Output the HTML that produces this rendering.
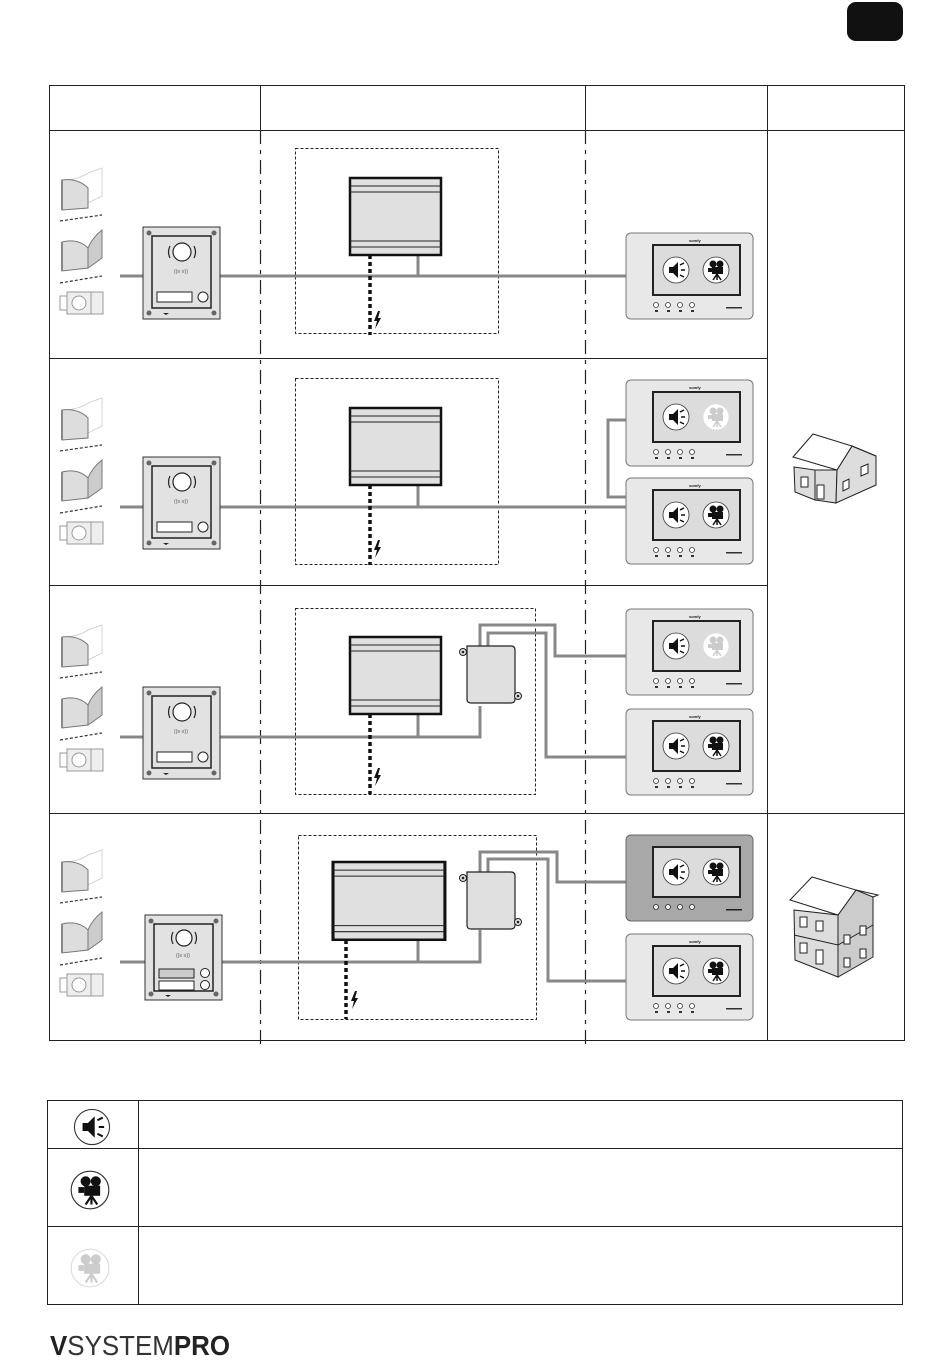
<!DOCTYPE html>
<html><head><meta charset="utf-8">
<style>
html,body{margin:0;padding:0;background:#fff;}
svg{display:block;}
</style></head>
<body>
<svg width="950" height="1364" viewBox="0 0 950 1364" xmlns="http://www.w3.org/2000/svg" font-family="Liberation Sans, sans-serif">
<defs>
  <g id="spk">
    <circle cx="0" cy="0" r="13" fill="#fff" stroke="#333" stroke-width="0.8"/>
    <path d="M-7,-3 L-3,-3 L2,-8 L2,8 L-3,3 L-7,3 Z" fill="#111"/>
    <path d="M4,-5 L8,-7 M5,0 L9,0 M4,5 L8,7" stroke="#111" stroke-width="1.5"/>
  </g>
  <g id="camD">
    <circle cx="0" cy="0" r="13" fill="#fff" stroke="#333" stroke-width="0.8"/>
    <circle cx="-3" cy="-6" r="3.5" fill="#111"/><circle cx="4" cy="-6" r="3.5" fill="#111"/>
    <rect x="-4" y="-3" width="11" height="7" fill="#111"/><rect x="-8" y="-2" width="4" height="4" fill="#111"/>
    <path d="M1,4 L-3,10 M1,4 L1,10 M1,4 L5,10" stroke="#111" stroke-width="1.5"/>
  </g>
  <g id="camL">
    <circle cx="0" cy="0" r="13" fill="#fff" stroke="#ddd" stroke-width="0.8"/>
    <circle cx="-3" cy="-6" r="3.5" fill="#ccc"/><circle cx="4" cy="-6" r="3.5" fill="#ccc"/>
    <rect x="-4" y="-3" width="11" height="7" fill="#ccc"/><rect x="-8" y="-2" width="4" height="4" fill="#ccc"/>
    <path d="M1,4 L-3,10 M1,4 L1,10 M1,4 L5,10" stroke="#ccc" stroke-width="1.5"/>
  </g>
  <g id="monbase">
    <rect x="0" y="0" width="127" height="86" rx="5" fill="#e8e8e8" stroke="#777" stroke-width="1"/>
    <rect x="27" y="12" width="87" height="50" fill="#dcdcdc" stroke="#222" stroke-width="2"/>
    <text x="63" y="9" font-size="4" font-weight="bold" fill="#222">somfy</text>
    <g fill="#fff" stroke="#333" stroke-width="0.8"><circle cx="30" cy="72" r="2.5"/><circle cx="42" cy="72" r="2.5"/><circle cx="54" cy="72" r="2.5"/><circle cx="66" cy="72" r="2.5"/></g>
    <g fill="#333"><rect x="29" y="77" width="3" height="2"/><rect x="41" y="77" width="3" height="2"/><rect x="53" y="77" width="3" height="2"/><rect x="65" y="77" width="3" height="2"/></g>
    <rect x="100" y="74" width="16" height="1.5" fill="#333"/>
  </g>
  <g id="monD"><use href="#monbase"/><use href="#spk" x="50" y="37"/><use href="#camD" x="90" y="37"/></g>
  <g id="monL"><use href="#monbase"/><use href="#spk" x="50" y="37"/><use href="#camL" x="90" y="37"/></g>
  <g id="door">
    <rect x="0" y="0" width="77" height="92" fill="#e2e2e2" stroke="#333" stroke-width="1"/>
    <rect x="9" y="9" width="59" height="72" fill="none" stroke="#222" stroke-width="1.5"/>
    <g fill="#666"><circle cx="6" cy="6" r="2.5"/><circle cx="71" cy="6" r="2.5"/><circle cx="6" cy="86" r="2.5"/><circle cx="71" cy="86" r="2.5"/></g>
    <circle cx="39" cy="25" r="9" fill="#fff" stroke="#222" stroke-width="1.2"/>
    <path d="M27,19 Q24,25 27,31 M51,19 Q54,25 51,31" fill="none" stroke="#222" stroke-width="1.2"/>
    <text x="31" y="46" font-size="5" fill="#555">((≡ ≡))</text>
    <rect x="14" y="65" width="35" height="10" fill="#fff" stroke="#222" stroke-width="1"/>
    <circle cx="60" cy="70" r="5" fill="#fff" stroke="#222" stroke-width="1"/>
    <path d="M20,86 L26,86 L23,88 Z" fill="#222"/>
  </g>
  <g id="door2">
    <rect x="0" y="0" width="77" height="85" fill="#e2e2e2" stroke="#333" stroke-width="1"/>
    <rect x="9" y="9" width="59" height="67" fill="none" stroke="#222" stroke-width="1.5"/>
    <g fill="#666"><circle cx="6" cy="6" r="2.5"/><circle cx="71" cy="6" r="2.5"/><circle cx="6" cy="79" r="2.5"/><circle cx="71" cy="79" r="2.5"/></g>
    <circle cx="39" cy="23" r="8" fill="#fff" stroke="#222" stroke-width="1.2"/>
    <path d="M28,17 Q25,23 28,29 M50,17 Q53,23 50,29" fill="none" stroke="#222" stroke-width="1.2"/>
    <text x="31" y="42" font-size="5" fill="#555">((≡ ≡))</text>
    <rect x="14" y="54" width="35" height="9" fill="#ccc" stroke="#222" stroke-width="1"/>
    <rect x="14" y="66" width="35" height="9" fill="#fff" stroke="#222" stroke-width="1"/>
    <circle cx="60" cy="58" r="4.5" fill="#fff" stroke="#222"/><circle cx="60" cy="70" r="4.5" fill="#fff" stroke="#222"/>
    <path d="M20,80 L26,80 L23,82 Z" fill="#222"/>
  </g>
  <g id="psu">
    <rect x="0" y="0" width="91" height="77" fill="#e0e0e0" stroke="#111" stroke-width="2.5"/>
    <path d="M0,8 H91 M0,14 H91 M0,63 H91 M0,69 H91" stroke="#222" stroke-width="1"/>
  </g>
  <g id="jbox">
    <path d="M4,3 L48,3 Q52,3 52,7 L52,56 Q52,60 48,60 L8,60 Q4,60 4,56 Z" fill="#e0e0e0" stroke="#222" stroke-width="1.2"/>
    <circle cx="0" cy="9" r="3.5" fill="#e0e0e0" stroke="#222"/><circle cx="0" cy="9" r="1.3" fill="#222"/>
    <circle cx="55" cy="53" r="3.5" fill="#e0e0e0" stroke="#222"/><circle cx="55" cy="53" r="1.3" fill="#222"/>
  </g>
  <g id="gates">
    <path d="M2,12 Q18,12 28,5 L42,0 L42,28 L28,35 L28,40 L2,42 Z" fill="none" stroke="#ccc" stroke-width="0.8"/>
    <path d="M2,12 Q18,10 28,20 L28,40 L2,42 Z" fill="#ddd" stroke="#777" stroke-width="1"/>
    <path d="M2,12 V42" stroke="#888" stroke-width="2"/>
    <path d="M0,53 L42,47" stroke="#333" stroke-width="1.2" stroke-dasharray="3,2"/>
    <path d="M2,74 Q18,70 28,80 L28,100 L2,103 Z" fill="#ddd" stroke="#777"/>
    <path d="M2,74 V103" stroke="#888" stroke-width="2"/>
    <path d="M28,80 Q32,70 42,62 L42,90 Q34,96 28,100 Z" fill="#ccc" stroke="#777"/>
    <path d="M0,115 L42,108" stroke="#333" stroke-width="1.2" stroke-dasharray="3,2"/>
    <rect x="0" y="128" width="8" height="14" fill="#fff" stroke="#999"/>
    <rect x="7" y="124" width="24" height="22" fill="#eee" stroke="#999"/>
    <circle cx="19" cy="135" r="7" fill="#fff" stroke="#999"/>
    <rect x="31" y="124" width="12" height="22" fill="#eee" stroke="#999"/>
  </g>
</defs>

<!-- badge -->
<rect x="847" y="2" width="56" height="39" rx="9" fill="#111"/>

<!-- main table -->
<g stroke="#222" stroke-width="1" fill="none">
  <rect x="49.5" y="85.5" width="855" height="955"/>
  <path d="M49.5,130.5 H904.5 M260.5,85.5 V130.5 M585.5,85.5 V130.5 M767.5,85.5 V1040.5"/>
  <path d="M49.5,358.5 H767.5 M49.5,585.5 H767.5 M49.5,813.5 H904.5"/>
</g>
<g stroke="#222" stroke-width="1.2" stroke-dasharray="14,6,4,6">
  <path d="M260.5,130 V1048 M585.5,130 V1048"/>
</g>

<!-- dashed boxes -->
<g stroke="#222" stroke-width="1" fill="none" stroke-dasharray="3,2">
  <rect x="295.5" y="148.5" width="203" height="185"/>
  <rect x="295.5" y="378.5" width="203" height="186"/>
  <rect x="295.5" y="608.5" width="240" height="186"/>
  <rect x="298.5" y="835.5" width="238" height="184"/>
</g>

<!-- wires -->
<g stroke="#888" stroke-width="3" fill="none">
  <path d="M120,276 H626 M418,255 V276"/>
  <path d="M120,507 H626 M418,485 V507 M626,420 H608 V497 H626"/>
  <path d="M120,737 H480 V706 M418,714 V737"/>
  <path d="M480,646 V625 H555 V656 H626"/>
  <path d="M488,646 V633 H546 V757 H626"/>
  <path d="M120,962 H480 V930 M418,940 V962"/>
  <path d="M480,872 V852 H557 V882 H626"/>
  <path d="M488,872 V859 H548 V981 H626"/>
</g>
<!-- mains dotted -->
<g stroke="#111" stroke-width="3.5" stroke-dasharray="4,3">
  <path d="M370,255 V335 M370,485 V565 M370,714 V794 M346,940 V1019"/>
</g>
<g fill="#111">
  <path d="M378,311 l-4,10 l3,0 l-2,8 l6,-11 l-3,0 l2,-7z"/>
  <path d="M378,540 l-4,10 l3,0 l-2,8 l6,-11 l-3,0 l2,-7z"/>
  <path d="M378,768 l-4,10 l3,0 l-2,8 l6,-11 l-3,0 l2,-7z"/>
  <path d="M355,991 l-4,10 l3,0 l-2,8 l6,-11 l-3,0 l2,-7z"/>
</g>

<!-- gates -->
<use href="#gates" x="60" y="168"/>
<use href="#gates" x="60" y="398"/>
<use href="#gates" x="60" y="625"/>
<use href="#gates" x="60" y="850"/>

<!-- door stations -->
<use href="#door" x="143" y="227"/>
<use href="#door" x="143" y="457"/>
<use href="#door" x="143" y="687"/>
<use href="#door2" x="145" y="915"/>

<!-- PSUs -->
<use href="#psu" x="350" y="178"/>
<use href="#psu" x="350" y="408"/>
<use href="#psu" x="350" y="637"/>
<g transform="translate(333,862) scale(1.23,1.01)"><use href="#psu"/></g>

<!-- junction boxes -->
<use href="#jbox" x="463" y="643"/>
<use href="#jbox" x="463" y="869"/>

<!-- monitors -->
<use href="#monD" x="626" y="233"/>
<use href="#monL" x="626" y="380"/>
<use href="#monD" x="626" y="478"/>
<use href="#monL" x="626" y="609"/>
<use href="#monD" x="626" y="709"/>
<g>
  <rect x="626" y="835" width="127" height="86" rx="5" fill="#a8a8a8" stroke="#666"/>
  <rect x="653" y="847" width="87" height="50" fill="#dcdcdc" stroke="#222" stroke-width="2"/>
  <use href="#spk" x="676" y="872"/><use href="#camD" x="716" y="872"/>
  <g fill="#eee" stroke="#222" stroke-width="0.8"><circle cx="656" cy="907" r="2.5"/><circle cx="668" cy="907" r="2.5"/><circle cx="680" cy="907" r="2.5"/><circle cx="692" cy="907" r="2.5"/></g>
  <rect x="726" y="909" width="16" height="1.5" fill="#222"/>
</g>
<use href="#monD" x="626" y="934"/>

<!-- house 1 -->
<g stroke="#222" stroke-width="1">
  <path d="M794,467 L815,470 L815,500 L795,492 Z" fill="#ddd"/>
  <path d="M815,470 L837,470 L836,503 L815,500 Z" fill="#ddd"/>
  <path d="M837,470 L852,446 L876,456 L876,485 L836,503 Z" fill="#ddd"/>
  <path d="M793,457 L813,434 L852,446 L837,470 Z" fill="#fff"/>
  <path d="M852,446 L876,456" fill="none"/>
  <rect x="801" y="477" width="7" height="10" fill="#fff"/>
  <rect x="817" y="485" width="7" height="14" fill="#fff"/>
  <path d="M843,482 L849,479 L849,488 L843,491 Z" fill="#fff"/>
  <path d="M861,467 L868,464 L868,473 L861,476 Z" fill="#fff"/>
</g>
<!-- house 2 -->
<g stroke="#222" stroke-width="1">
  <path d="M794,910 L838,915 L838,977 L795,960 Z" fill="#ddd"/>
  <path d="M838,915 L856,890 L873,897 L873,957 L838,977 Z" fill="#ccc"/>
  <path d="M790,900 L812,877 L856,890 L838,915 Z" fill="#fff"/>
  <path d="M856,890 L878,895 L873,897" fill="none"/>
  <path d="M794,935 L838,945 L873,925" fill="none"/>
  <rect x="800" y="917" width="7" height="10" fill="#fff"/><rect x="816" y="921" width="7" height="10" fill="#fff"/>
  <rect x="800" y="943" width="7" height="10" fill="#fff"/><rect x="816" y="950" width="7" height="14" fill="#fff"/>
  <rect x="844" y="935" width="6" height="9" fill="#fff"/><rect x="860" y="926" width="6" height="9" fill="#fff"/>
  <rect x="844" y="958" width="6" height="9" fill="#fff"/><rect x="860" y="949" width="6" height="9" fill="#fff"/>
</g>

<!-- legend -->
<g stroke="#222" stroke-width="1" fill="none">
  <rect x="47.5" y="1100.5" width="855" height="204"/>
  <path d="M138.5,1100.5 V1304.5 M47.5,1148.5 H902.5 M47.5,1226.5 H902.5"/>
</g>
<g transform="translate(92,1127) scale(1.35)"><use href="#spk"/></g>
<g transform="translate(90,1190) scale(1.45)"><use href="#camD"/></g>
<g transform="translate(90,1268) scale(1.45)"><use href="#camL"/></g>

<!-- logo -->
<text x="50" y="1355" font-size="28" fill="#222" textLength="180" lengthAdjust="spacingAndGlyphs"><tspan font-weight="bold">V</tspan><tspan fill="#333">SYSTEM</tspan><tspan font-weight="bold">PRO</tspan></text>
</svg>
</body></html>
